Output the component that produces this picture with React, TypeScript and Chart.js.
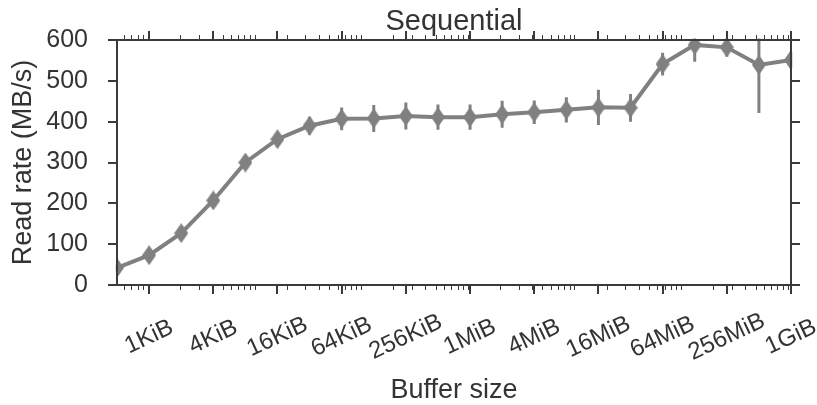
import { useEffect, useRef } from 'react';
import { Chart, registerables } from 'chart.js';

Chart.register(...registerables);

const FONT = '"Liberation Sans", Arial, sans-serif';
const TEXT = '#333333';
const AXIS = '#3a3a3a';
const GRAY = '#808080';

// Buffer sizes (bytes)
const bufferSizes = [
  512, 1024, 2048, 4096, 8192, 16384, 32768, 65536, 131072, 262144, 524288,
  1048576, 2097152, 4194304, 8388608, 16777216, 33554432, 67108864,
  134217728, 268435456, 536870912, 1073741824,
];
// Read rate (MB/s)
const readRates = [
  42, 73, 127, 207, 300, 357, 390, 407, 408, 414, 411,
  411, 418, 423, 429, 435, 434, 541, 588, 582, 539, 551,
];
// Error bar half-heights (MB/s)
const readErrors = [
  8, 10, 10, 10, 12, 12, 22, 28, 33, 33, 31,
  31, 33, 29, 31, 43, 34, 28, 41, 23, 118, 20,
];

const majorTickValues = [
  1024, 4096, 16384, 65536, 262144, 1048576, 4194304, 16777216, 67108864,
  268435456, 1073741824,
];
const majorTickLabels = [
  '1KiB', '4KiB', '16KiB', '64KiB', '256KiB', '1MiB', '4MiB', '16MiB',
  '64MiB', '256MiB', '1GiB',
];
const yTickValues = [0, 100, 200, 300, 400, 500, 600];

const X_MIN = 512;
const X_MAX = 1073741824;

function minorTicks(): number[] {
  const out: number[] = [];
  for (let p = 100; p <= X_MAX; p *= 10) {
    for (let k = 1; k <= 9; k++) {
      const v = k * p;
      if (v > X_MIN && v < X_MAX) out.push(v);
    }
  }
  return out;
}

function makeDiamond(): HTMLCanvasElement {
  const c = document.createElement('canvas');
  const w = 14;
  const h = 20;
  c.width = w;
  c.height = h;
  const g = c.getContext('2d')!;
  g.fillStyle = GRAY;
  g.beginPath();
  g.moveTo(w / 2, 0);
  g.lineTo(w, h / 2);
  g.lineTo(w / 2, h);
  g.lineTo(0, h / 2);
  g.closePath();
  g.fill();
  return c;
}

const framePlugin = {
  id: 'framePlugin',
  beforeDatasetsDraw(chart: any) {
    const { ctx, chartArea, scales } = chart;
    const xs = scales.x;
    const ys = scales.y;
    ctx.save();
    ctx.beginPath();
    ctx.rect(chartArea.left - 1.5, chartArea.top - 1.5, chartArea.right - chartArea.left + 3, chartArea.bottom - chartArea.top + 3);
    ctx.clip();
    ctx.strokeStyle = GRAY;
    ctx.lineWidth = 3;
    for (let i = 0; i < bufferSizes.length; i++) {
      const x = xs.getPixelForValue(bufferSizes[i]);
      const y1 = ys.getPixelForValue(readRates[i] - readErrors[i]);
      const y2 = ys.getPixelForValue(readRates[i] + readErrors[i]);
      ctx.beginPath();
      ctx.moveTo(x, y1);
      ctx.lineTo(x, y2);
      ctx.stroke();
    }
    ctx.restore();
  },
  afterDraw(chart: any) {
    const { ctx, chartArea, scales } = chart;
    const { left, right, top, bottom } = chartArea;
    const xs = scales.x;
    const ys = scales.y;
    ctx.save();
    ctx.strokeStyle = AXIS;
    // minor x ticks
    ctx.lineWidth = 1;
    for (const v of minorTicks()) {
      const x = Math.round(xs.getPixelForValue(v)) + 0.5;
      ctx.beginPath();
      ctx.moveTo(x, bottom);
      ctx.lineTo(x, bottom + 5);
      ctx.moveTo(x, top);
      ctx.lineTo(x, top - 5);
      ctx.stroke();
    }
    // major x ticks
    ctx.lineWidth = 2;
    for (const v of majorTickValues) {
      const x = Math.round(xs.getPixelForValue(v));
      ctx.beginPath();
      ctx.moveTo(x, bottom);
      ctx.lineTo(x, bottom + 9);
      ctx.moveTo(x, top);
      ctx.lineTo(x, top - 9);
      ctx.stroke();
    }
    // y ticks
    for (const v of yTickValues) {
      const y = Math.round(ys.getPixelForValue(v));
      ctx.beginPath();
      ctx.moveTo(left, y);
      ctx.lineTo(left - 9, y);
      ctx.moveTo(right, y);
      ctx.lineTo(right + 9, y);
      ctx.stroke();
    }
    // frame
    ctx.lineWidth = 2;
    ctx.strokeRect(Math.round(left), Math.round(top), Math.round(right - left), Math.round(bottom - top));
    // x tick labels, rotated, centred on ticks
    ctx.fillStyle = TEXT;
    ctx.font = `24px ${FONT}`;
    ctx.textAlign = 'center';
    ctx.textBaseline = 'middle';
    majorTickValues.forEach((v, i) => {
      const x = xs.getPixelForValue(v);
      ctx.save();
      ctx.translate(x, bottom + 52);
      ctx.rotate((-25 * Math.PI) / 180);
      ctx.fillText(majorTickLabels[i], 0, 0);
      ctx.restore();
    });
    ctx.restore();
  },
};

export default function App() {
  const ref = useRef<HTMLCanvasElement | null>(null);
  useEffect(() => {
    if (!ref.current) return;
    Chart.defaults.font.family = FONT;
    const chart = new Chart(ref.current, {
      type: 'line',
      data: {
        datasets: [
          {
            data: bufferSizes.map((s, i) => ({ x: s, y: readRates[i] })),
            borderColor: GRAY,
            backgroundColor: GRAY,
            borderWidth: 4,
            pointStyle: makeDiamond() as any,
            pointRadius: 7,
            tension: 0,
            xAxisID: 'x',
            yAxisID: 'y',
          },
        ],
      },
      options: {
        animation: false,
        responsive: true,
        maintainAspectRatio: false,
        layout: { padding: { left: 0, right: 26, top: 0, bottom: 0 } },
        plugins: {
          legend: { display: false },
          tooltip: { enabled: false },
          title: { display: false },
        },
        scales: {
          x: {
            type: 'logarithmic',
            position: 'bottom',
            min: X_MIN,
            max: X_MAX,
            grid: { display: false, drawTicks: false },
            border: { display: false },
            ticks: { display: false },
            title: {
              display: true,
              text: 'Buffer size',
              color: TEXT,
              font: { size: 27, family: FONT },
              padding: { top: 0, bottom: -2 },
            },
            afterFit(s: any) {
              s.height = 120;
            },
          },
          x2: {
            type: 'logarithmic',
            position: 'top',
            min: X_MIN,
            max: X_MAX,
            grid: { display: false, drawTicks: false },
            border: { display: false },
            ticks: { display: false },
            title: {
              display: true,
              text: 'Sequential',
              color: TEXT,
              font: { size: 29, family: FONT },
              padding: { top: 5, bottom: 0 },
            },
            afterFit(s: any) {
              s.height = 40;
            },
          },
          y: {
            min: 0,
            max: 600,
            grid: { display: false, drawTicks: true, tickLength: 29 },
            border: { display: false },
            ticks: {
              stepSize: 100,
              padding: 0,
              color: TEXT,
              font: { size: 25, family: FONT },
            },
            title: {
              display: true,
              text: 'Read rate (MB/s)',
              color: TEXT,
              font: { size: 27, family: FONT },
              padding: { top: 7, bottom: 0 },
            },
            afterFit(s: any) {
              s.width = 117;
            },
          },
        },
      },
      plugins: [framePlugin],
    } as any);
    return () => chart.destroy();
  }, []);
  return (
    <div style={{ position: 'fixed', left: 0, top: 0, width: 817, height: 405 }}>
      <canvas ref={ref} />
    </div>
  );
}
